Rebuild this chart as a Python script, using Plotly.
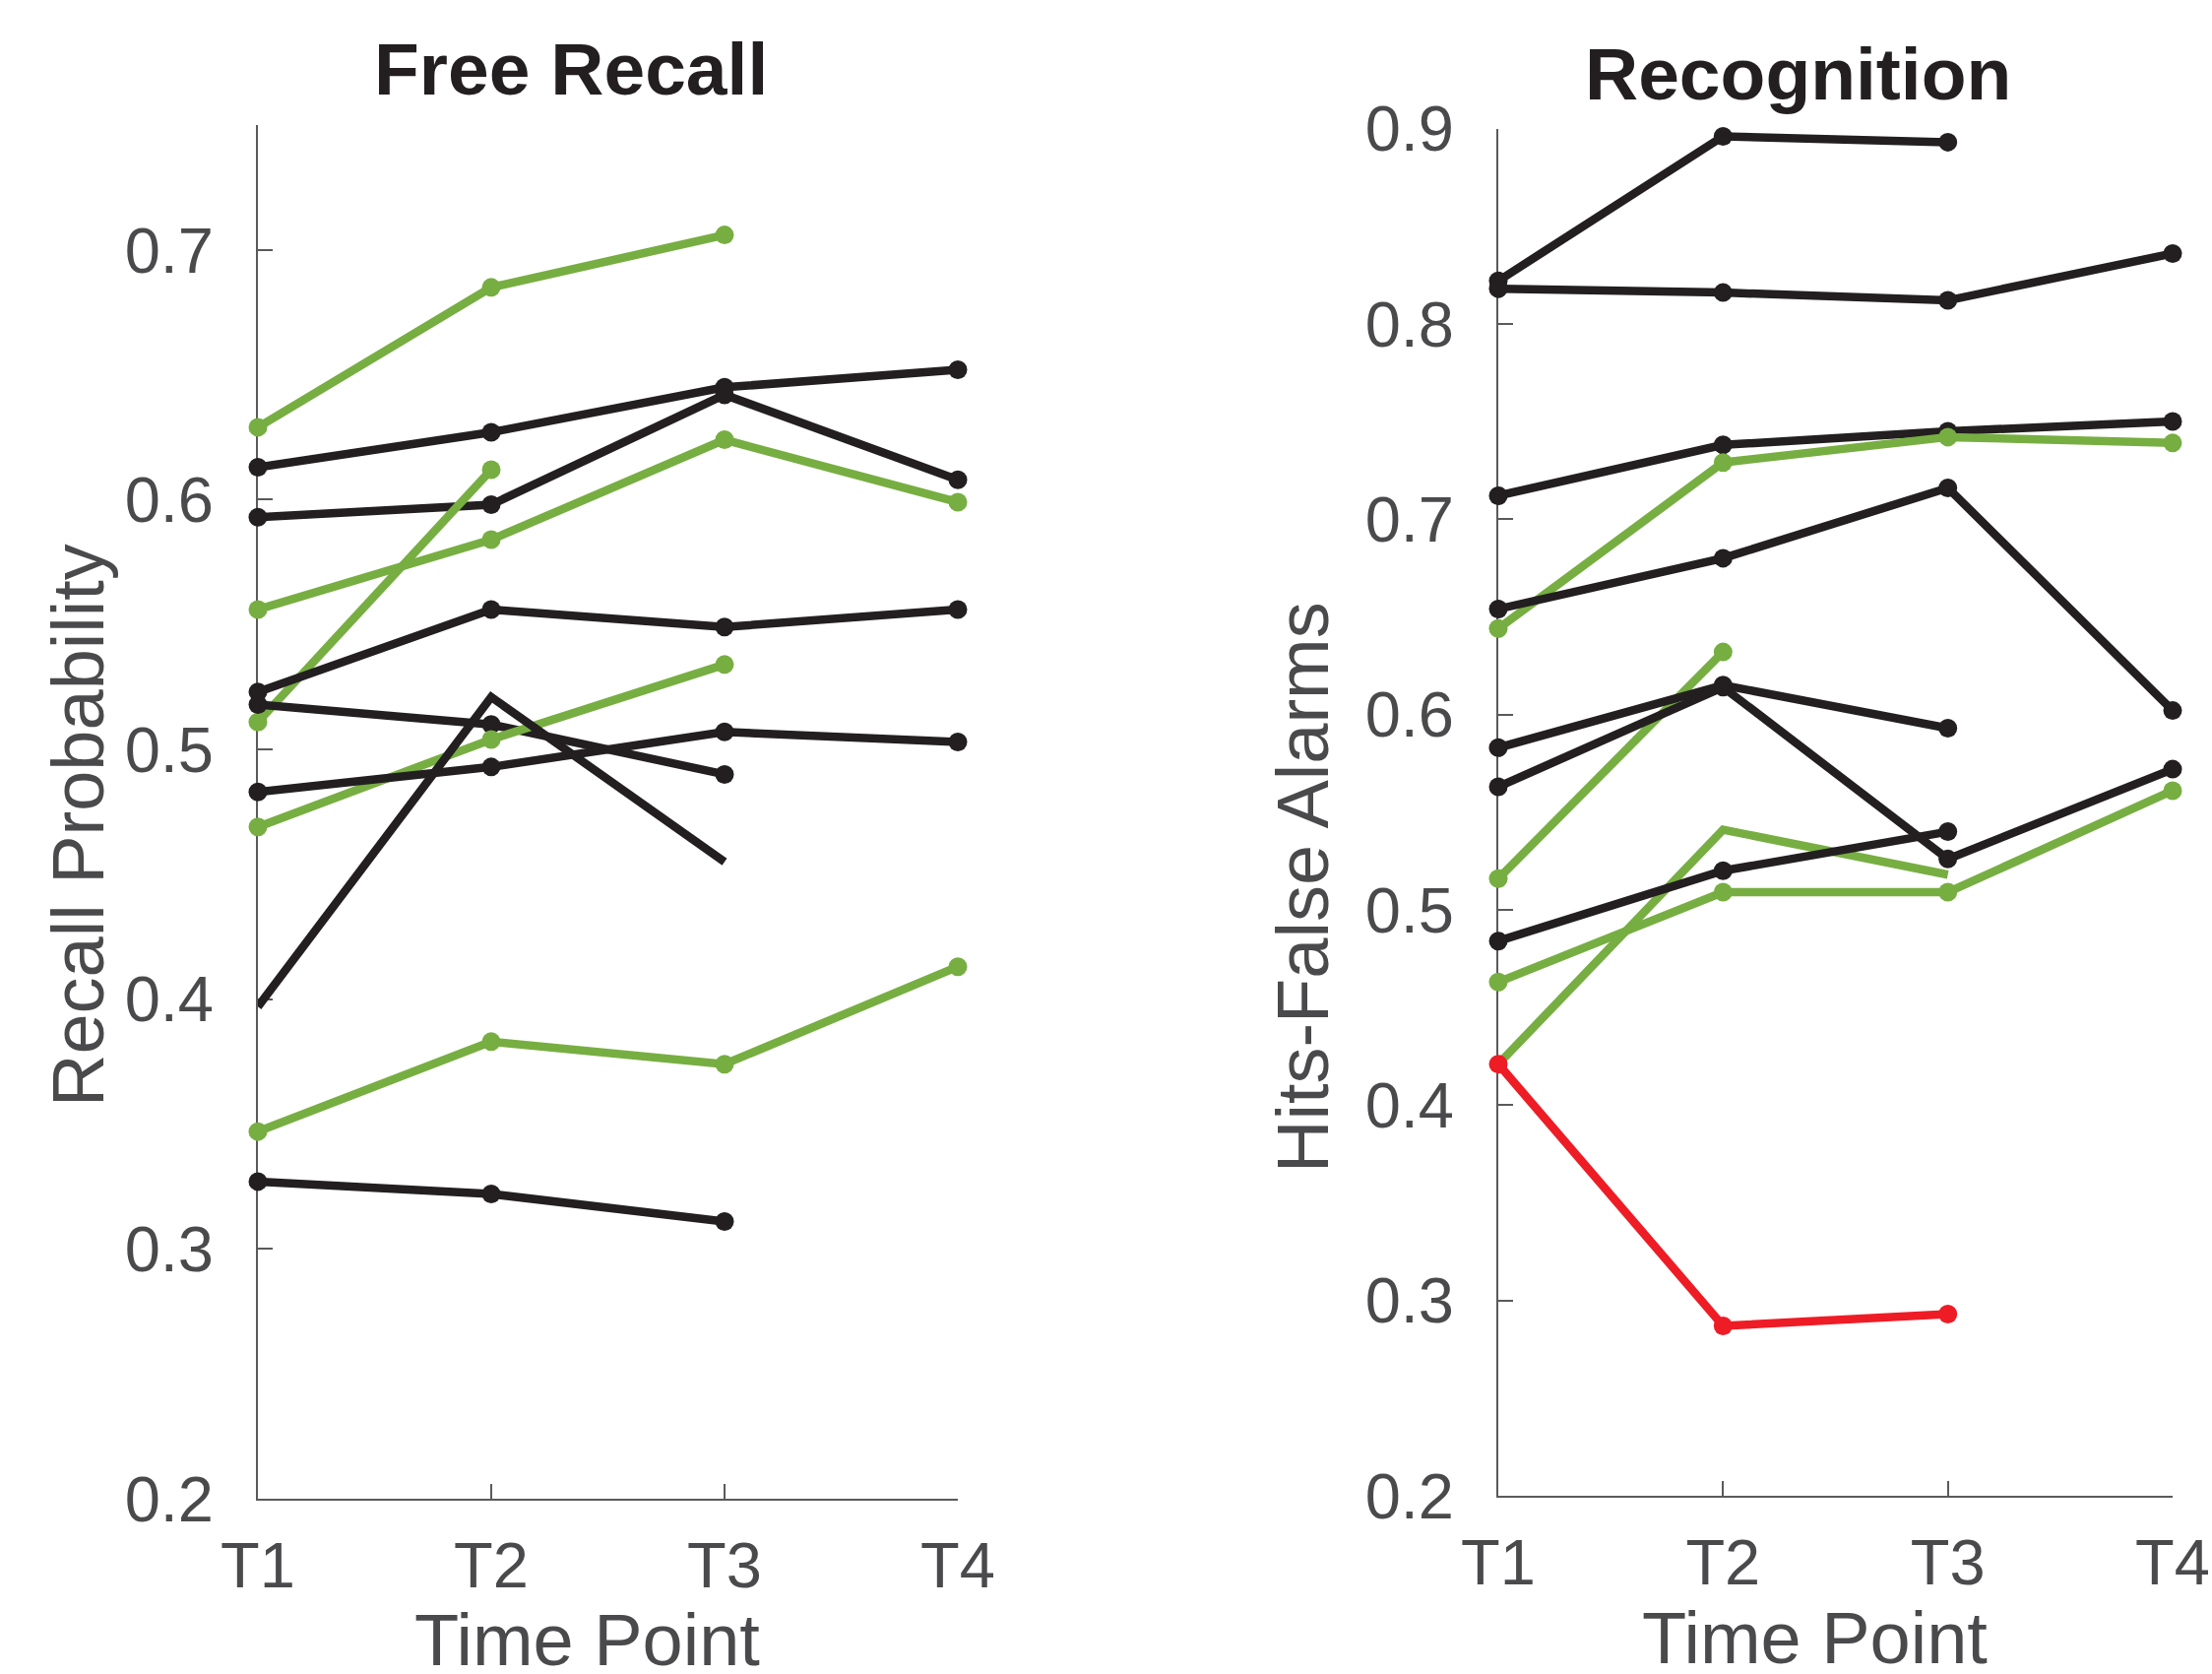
import plotly.graph_objects as go

# ---------------- data ----------------
time_points = [1, 2, 3, 4]
time_labels = ["T1", "T2", "T3", "T4"]

GREEN = "#77AE42"
BLACK = "#231F20"
RED = "#EE1C25"

# Free Recall (left panel): each participant's recall probability per time point
fr_green_1 = [0.629, 0.685, 0.706]
fr_black_2 = [0.613, 0.627, 0.645, 0.652]
fr_black_3 = [0.593, 0.598, 0.642, 0.608]
fr_green_4 = [0.511, 0.612]
fr_green_5 = [0.556, 0.584, 0.624, 0.599]
fr_black_6 = [0.523, 0.556, 0.549, 0.556]
fr_black_7 = [0.518, 0.510, 0.490]
fr_green_8 = [0.469, 0.504, 0.534]
fr_black_9 = [0.483, 0.493, 0.507, 0.503]
fr_black_10 = [0.397, 0.521, 0.455]        # no markers
fr_green_11 = [0.347, 0.383, 0.374, 0.413]
fr_black_12 = [0.327, 0.322, 0.311]

# Recognition (right panel): hits - false alarms per time point
rc_black_a = [0.822, 0.896, 0.893]
rc_black_b = [0.818, 0.816, 0.812, 0.836]
rc_black_c = [0.712, 0.738, 0.745, 0.750]
rc_green_d = [0.644, 0.729, 0.742, 0.739]
rc_black_e = [0.654, 0.680, 0.716, 0.602]
rc_green_f = [0.516, 0.632]
rc_black_g = [0.583, 0.615, 0.593]
rc_black_h = [0.563, 0.614, 0.526, 0.572]
rc_green_i = [0.421, 0.541, 0.518]         # no markers
rc_green_j = [0.463, 0.509, 0.509, 0.561]
rc_black_k = [0.484, 0.520, 0.540]
rc_red = [0.421, 0.287, 0.293]

fr_yticks = [0.2, 0.3, 0.4, 0.5, 0.6, 0.7]
rc_yticks = [0.2, 0.3, 0.4, 0.5, 0.6, 0.7, 0.8, 0.9]

left_series = [
    (fr_green_1, GREEN, True), (fr_black_2, BLACK, True), (fr_black_3, BLACK, True),
    (fr_green_4, GREEN, True), (fr_green_5, GREEN, True), (fr_black_6, BLACK, True),
    (fr_black_7, BLACK, True), (fr_green_8, GREEN, True), (fr_black_9, BLACK, True),
    (fr_black_10, BLACK, False), (fr_green_11, GREEN, True), (fr_black_12, BLACK, True),
]
right_series = [
    (rc_black_a, BLACK, True), (rc_black_b, BLACK, True), (rc_black_c, BLACK, True),
    (rc_green_d, GREEN, True), (rc_black_e, BLACK, True), (rc_green_f, GREEN, True),
    (rc_black_g, BLACK, True), (rc_black_h, BLACK, True), (rc_green_i, GREEN, False),
    (rc_green_j, GREEN, True), (rc_black_k, BLACK, True), (rc_red, RED, True),
]

# ---------------- figure ----------------
W, H = 2247, 1700
FONT = "Liberation Sans, Arial, Helvetica, sans-serif"
AXC = "#5A5A5A"
TXC = "#4A4A4C"

fig = go.Figure()

def add_series(series, xa, ya):
    for vals, color, has_marker in series:
        fig.add_trace(go.Scatter(
            x=time_points[:len(vals)], y=vals,
            mode="lines+markers" if has_marker else "lines",
            line=dict(color=color, width=8.5),
            marker=dict(color=color, size=19),
            xaxis=xa, yaxis=ya, cliponaxis=False, showlegend=False,
            hoverinfo="skip",
        ))

add_series(left_series, "x", "y")
add_series(right_series, "x2", "y2")

xcommon = dict(
    range=[1, 4], tickvals=time_points, ticktext=time_labels,
    showgrid=False, zeroline=False, showline=True, linecolor=AXC, linewidth=2,
    ticks="inside", ticklen=15, tickwidth=2, tickcolor=AXC,
    tickfont=dict(family=FONT, size=65, color=TXC), ticklabelstandoff=10,
    layer="below traces", automargin=False,
)
ycommon = dict(
    showgrid=False, zeroline=False, showline=True, linecolor=AXC, linewidth=2,
    ticks="inside", ticklen=15, tickwidth=2, tickcolor=AXC,
    tickfont=dict(family=FONT, size=65, color=TXC), ticklabelstandoff=30,
    layer="below traces", automargin=False,
)

fig.update_layout(
    width=W, height=H,
    margin=dict(l=0, r=0, t=0, b=0, pad=0, autoexpand=False),
    paper_bgcolor="white", plot_bgcolor="white",
    showlegend=False,
    xaxis=dict(domain=[262 / W, 973 / W], anchor="y", **xcommon),
    yaxis=dict(domain=[1 - 1522 / H, 1 - 127 / H], anchor="x", range=[0.2, 0.75],
               tickvals=fr_yticks, ticktext=[f"{v:.1f}" for v in fr_yticks], **ycommon),
    xaxis2=dict(domain=[1522 / W, 2207 / W], anchor="y2", **xcommon),
    yaxis2=dict(domain=[1 - 1519 / H, 1 - 130.5 / H], anchor="x2", range=[0.2, 0.9],
                tickvals=rc_yticks, ticktext=[f"{v:.1f}" for v in rc_yticks], **ycommon),
)

def ann(text, x, y, size, color, bold=False, angle=0, height=None):
    kw = {}
    if height is not None:
        kw["height"] = height
        kw["valign"] = "middle"
    fig.add_annotation(
        text=f"<b>{text}</b>" if bold else text,
        x=x / W, y=1 - y / H, xref="paper", yref="paper",
        xanchor="center", yanchor="middle", showarrow=False, textangle=angle,
        font=dict(family=FONT, size=size, color=color), **kw,
    )

ann("Free Recall", 580, 70, 75, "#231F20", bold=True)
ann("Recognition", 1826, 75, 75, "#231F20", bold=True)
ann("Time Point", 596, 1665, 74, TXC, height=64)
ann("Time Point", 1843, 1663, 74, TXC, height=64)
ann("Recall Probability", 79, 838, 74, TXC, angle=-90)
ann("Hits-False Alarms", 1323, 901, 74, TXC, angle=-90)

fig.write_html("out.html")
